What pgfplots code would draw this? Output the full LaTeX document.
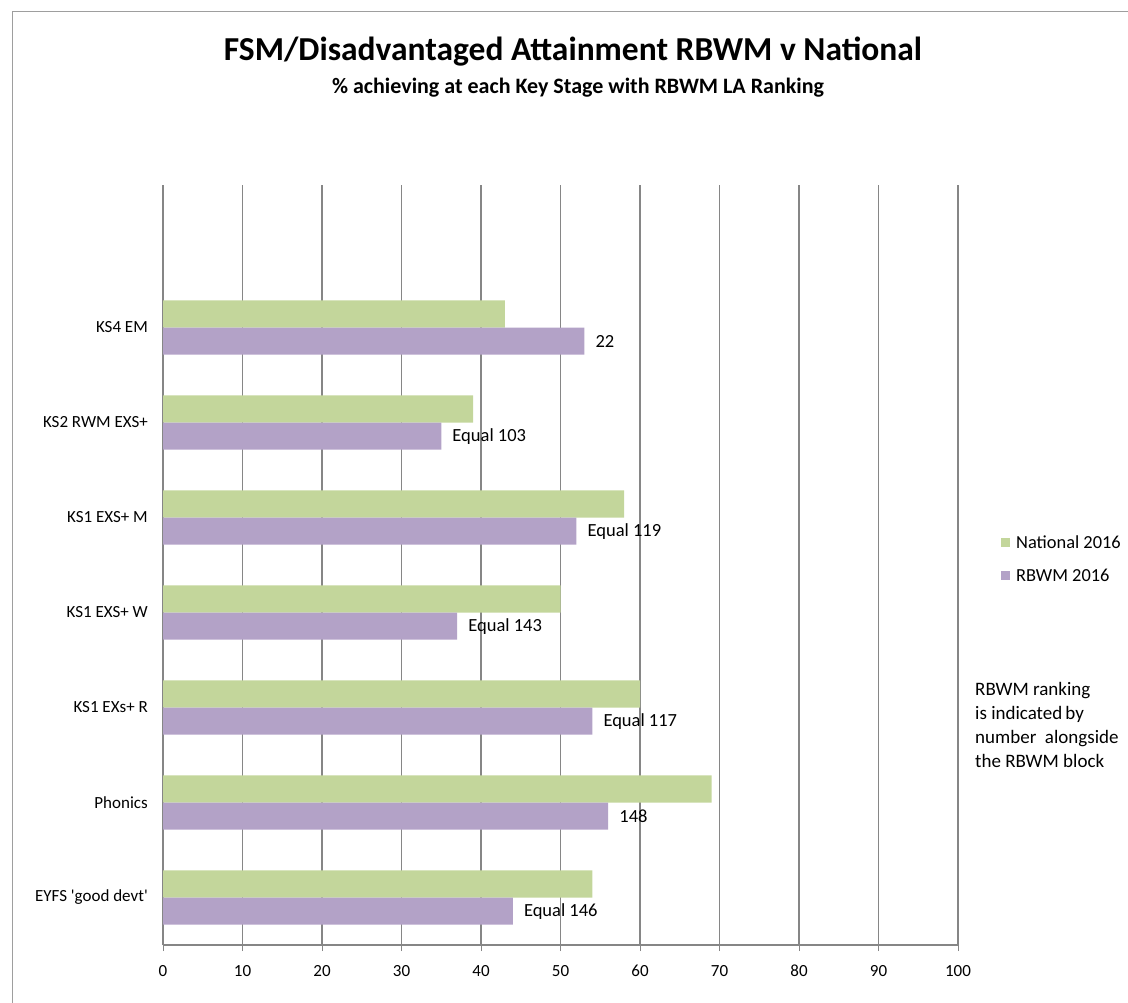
\documentclass[border=0pt]{standalone}
\usepackage{pgfplots}
\pgfplotsset{compat=1.18}
\usepackage{fontspec}
\setmainfont{Carlito}
\definecolor{natgreen}{HTML}{C3D69B}
\definecolor{rbpurple}{HTML}{B3A2C7}
\definecolor{gridgray}{HTML}{868686}
\begin{document}
\begin{tikzpicture}[x=1pt,y=1pt]
\useasboundingbox (0,0) rectangle (1128,-1003);
\draw[gridgray!80, line width=1pt] (12,-1003) -- (12,-12) -- (1128,-12);
\node[font=\fontsize{33.5}{38}\selectfont\bfseries] at (573,-52) {FSM/Disadvantaged Attainment RBWM v National};
\node[font=\fontsize{22}{26}\selectfont\bfseries] at (578,-88) {\% achieving at each Key Stage with RBWM LA Ranking};
\node[anchor=north west, align=left, inner sep=0pt, font=\fontsize{19}{24}\selectfont] at (975,-682) {RBWM ranking\\ is indicated\,by\\number\ \ alongside\\the RBWM block};
\begin{axis}[
  at={(163pt,-945pt)}, anchor=south west,
  scale only axis, width=795pt, height=760pt,
  xmin=0, xmax=100, ymin=-0.5, ymax=7.5,
  axis x line*=bottom, axis y line*=left,
  axis line style={gridgray, line width=1.5pt},
  xtick={0,10,...,100},
  xmajorgrids, grid style={gridgray, line width=1.2pt},
  ytick={0,1,2,3,4,5,6},
  yticklabels={EYFS \textquotesingle good devt\textquotesingle,Phonics,KS1 EXs+ R,KS1 EXS+ W,KS1 EXS+ M,KS2 RWM EXS+,KS4 EM},
  minor ytick={-0.5,0.5,...,7.5},
  tick align=outside,
  major tick length=6pt, minor tick length=6pt,
  ytick style={draw=none},
  minor tick style={gridgray, line width=1pt, draw=gridgray},
  xtick style={gridgray, line width=1pt},
  tick label style={font=\fontsize{17}{20}\selectfont, inner sep=0pt},
  yticklabel style={xshift=-9pt},
  xticklabel style={yshift=-14pt},
  /pgf/number format/assume math mode=true,
  legend style={at={(1.054,0.5415)}, anchor=north west, draw=none, fill=none,
    font=\fontsize{18.4}{22}\selectfont, row sep=15pt, inner sep=0pt,
    nodes={inner sep=2pt}},
  legend cell align=left,
  legend image code/.code={\fill[#1,draw=none] (0pt,-4.5pt) rectangle (9pt,4.5pt); \path (13pt,0pt);},
]
\addplot[xbar, fill=natgreen, draw=none, bar width=0.285, bar shift=0.1425]
  coordinates {(54,0) (69,1) (60,2) (50,3) (58,4) (39,5) (43,6)};
\addlegendentry{National 2016}
\addplot[xbar, fill=rbpurple, draw=none, bar width=0.285, bar shift=-0.1425,
  point meta=explicit symbolic, nodes near coords,
  nodes near coords style={anchor=west, inner sep=0pt, xshift=11pt, yshift=-14pt, font=\fontsize{18.5}{22}\selectfont, text=black}]
  coordinates {(44,0) [Equal 146] (56,1) [148] (54,2) [Equal 117] (37,3) [Equal 143] (52,4) [Equal 119] (35,5) [Equal 103] (53,6) [22]};
\addlegendentry{RBWM 2016}
\end{axis}
\end{tikzpicture}
\end{document}
